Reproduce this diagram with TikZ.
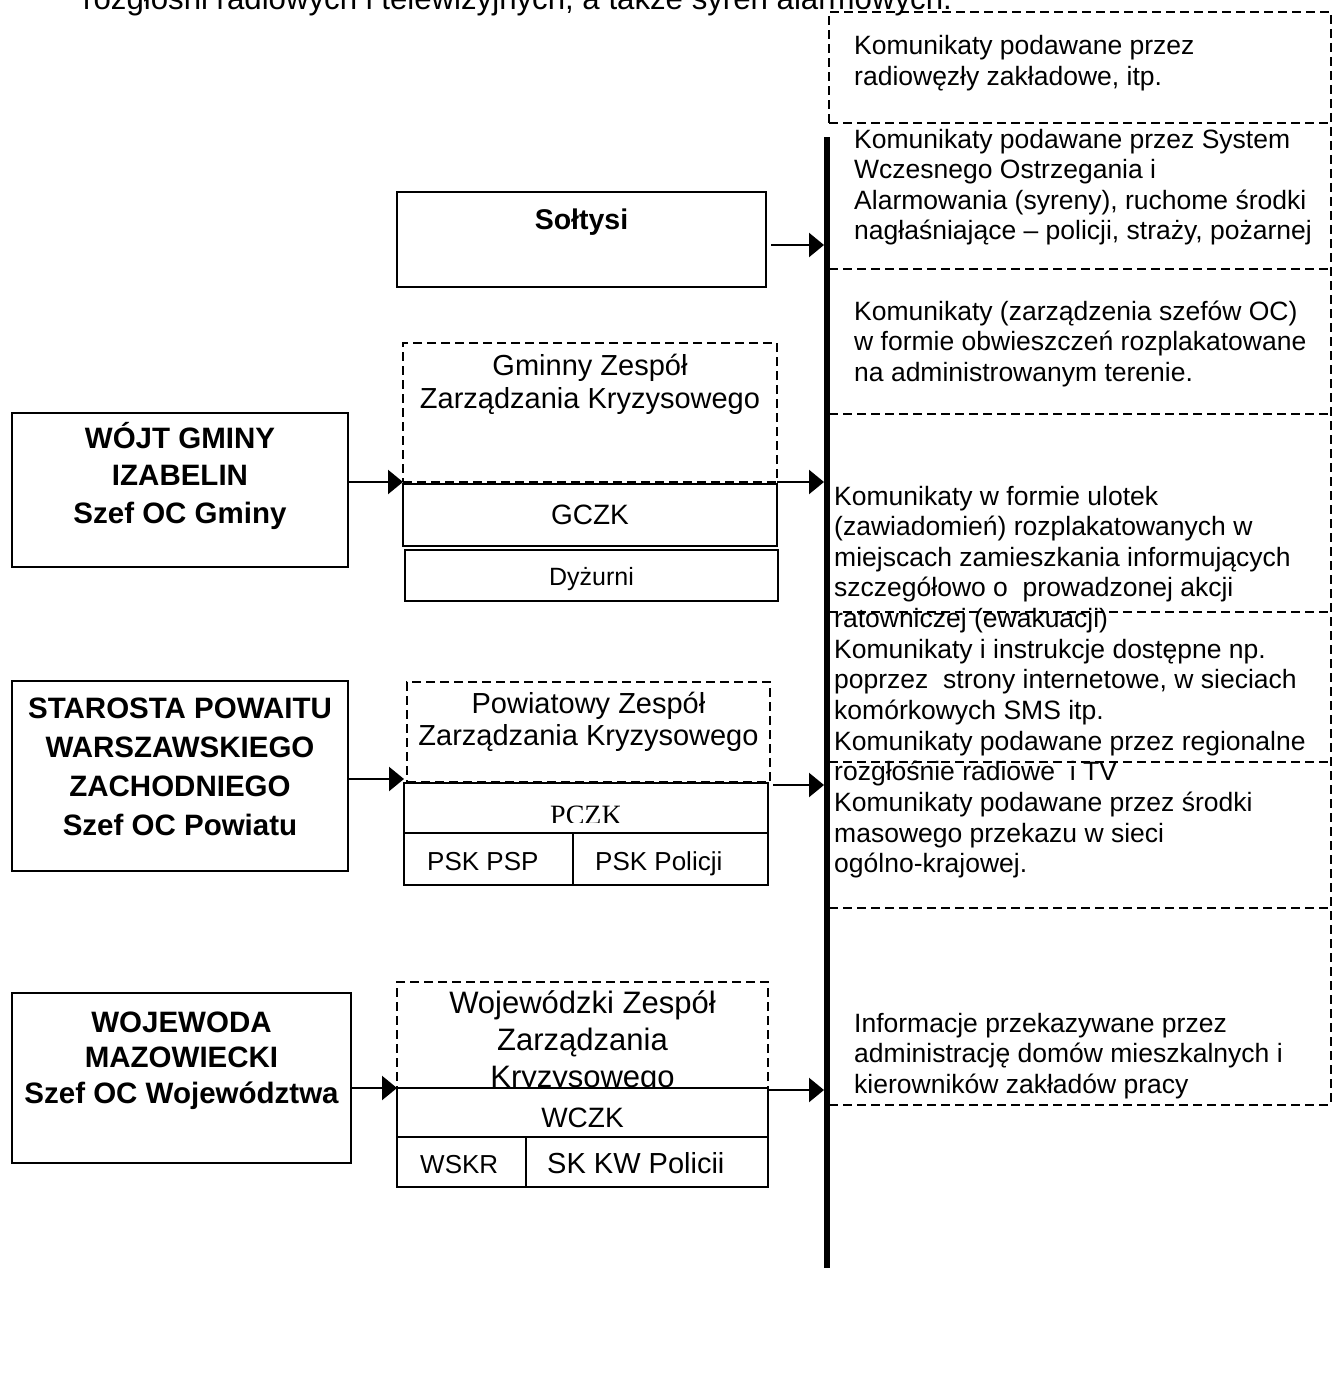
\documentclass[tikz,border=0pt]{standalone}
\usepackage{fontspec}
\setmainfont{Liberation Sans}
\newfontfamily\pczkfont{Liberation Serif}
\usetikzlibrary{arrows.meta}
\begin{document}
\begin{tikzpicture}[x=1pt,y=-1pt,
  box/.style={draw, line width=2.3pt, inner sep=0pt, outer sep=0pt, anchor=north west},
  dbox/.style={box, dash pattern=on 9pt off 5pt},
  arr/.style={line width=2.3pt, -{Triangle[length=15pt,width=24pt]}},
  dline/.style={line width=2.3pt, dash pattern=on 9pt off 5pt},
  rtxt/.style={inner sep=0pt, anchor=base west, align=left, font=\fontsize{26.5}{30.6}\selectfont},
  ltxt/.style={inner sep=0pt, anchor=base, align=center},
  btxt/.style={ltxt, font=\bfseries\fontsize{29.5}{37.5}\selectfont},
]
\useasboundingbox (0,0) rectangle (1343,1375);

% top cut-off line (base anchor = baseline of last line)
\node[inner sep=0pt, anchor=base west, font=\fontsize{31.2}{36}\selectfont] (toptext) at (83,10) {rozgłośni radiowych i telewizyjnych, a także syren alarmowych.};

% ---------- right column ----------
\node[fill=black, inner sep=0pt, outer sep=0pt, minimum width=6pt, minimum height=1131pt, anchor=north] (bus) at (827,137) {};

\node[rtxt] (r1) at (854,85.6) {Komunikaty podawane przez\\radiowęzły zakładowe, itp.};
\node[rtxt] (r2) at (854,239.8) {Komunikaty podawane przez System\\Wczesnego Ostrzegania i\\Alarmowania (syreny), ruchome środki\\nagłaśniające – policji, straży, pożarnej};
\node[rtxt] (r3) at (854,381.2) {Komunikaty (zarządzenia szefów OC)\\w formie obwieszczeń rozplakatowane\\na administrowanym terenie.};
\node[rtxt] (r4) at (834,627.4) {Komunikaty w formie ulotek\\(zawiadomień) rozplakatowanych w\\miejscach zamieszkania informujących\\szczegółowo o\ \ prowadzonej akcji\\ratowniczej (ewakuacji)};
\node[rtxt] (r5) at (834,719.5) {Komunikaty i instrukcje dostępne np.\\poprzez\ \ strony internetowe, w sieciach\\komórkowych SMS itp.};
\node[rtxt] (r6) at (834,780.9) {Komunikaty podawane przez regionalne\\rozgłośnie radiowe\ \ i TV};
\node[rtxt] (r7) at (834,872.8) {Komunikaty podawane przez środki\\masowego przekazu w sieci\\ogólno-krajowej.};
\node[rtxt] (r8) at (854,1093.2) {Informacje przekazywane przez\\administrację domów mieszkalnych i\\kierowników zakładów pracy};

% dashed frame of the right column
\draw[dline] (829,123) -- (829,12) -- (1331,12) -- (1331,1105);
\foreach \yy in {123,269,414,612,762,908,1105}
  \draw[dline] (829,\yy) -- (1331,\yy);

% ---------- left column boxes ----------
\node[box, minimum width=369pt, minimum height=95pt] (soltysi) at (397,192) {};
\node[ltxt, font=\bfseries\fontsize{28.5}{34}\selectfont] (tsoltysi) at (581.5,229) {Sołtysi};

\node[box, minimum width=336pt, minimum height=154pt] (wojt) at (12,413) {};
\node[btxt] (twojt) at (180,523) {WÓJT GMINY\\IZABELIN\\Szef OC Gminy};

\node[dbox, minimum width=374pt, minimum height=139pt] (gminny) at (403,343) {};
\node[ltxt, font=\fontsize{29}{33}\selectfont] (tgminny) at (590,408) {Gminny Zespół\\Zarządzania Kryzysowego};

\node[box, minimum width=374pt, minimum height=62pt] (gczk) at (403,484) {};
\node[ltxt, font=\fontsize{28}{32}\selectfont] (tgczk) at (590,524) {GCZK};

\node[box, minimum width=373pt, minimum height=51pt] (dyzurni) at (405,550) {};
\node[ltxt, font=\fontsize{25}{30}\selectfont] (tdyzurni) at (591.5,585) {Dyżurni};

\node[box, minimum width=336pt, minimum height=190pt] (starosta) at (12,681) {};
\node[btxt, font=\bfseries\fontsize{29.5}{39}\selectfont] (tstarosta) at (180,835) {STAROSTA POWAITU\\WARSZAWSKIEGO\\ZACHODNIEGO\\Szef OC Powiatu};

\node[dbox, minimum width=363pt, minimum height=100pt] (powiat) at (407,682) {};
\node[ltxt, font=\fontsize{29}{32}\selectfont] (tpowiat) at (588.5,745) {Powiatowy Zespół\\Zarządzania Kryzysowego};

\node[box, minimum width=364pt, minimum height=50pt] (pczk) at (404,783) {};
\begin{scope}
  \clip (404,783) rectangle (768,822.5);
  \node[ltxt, font=\pczkfont\fontsize{28}{32}\selectfont] (tpczk) at (586,824) {PCZK};
\end{scope}

\node[box, minimum width=169pt, minimum height=52pt] (pskpsp) at (404,833) {};
\node[box, minimum width=195pt, minimum height=52pt] (pskpol) at (573,833) {};
\node[inner sep=0pt, anchor=base west, font=\fontsize{26}{30}\selectfont] (tpskpsp) at (427,870) {PSK PSP};
\node[inner sep=0pt, anchor=base west, font=\fontsize{26}{30}\selectfont] (tpskpol) at (595,870) {PSK Policji};

\node[box, minimum width=339pt, minimum height=170pt] (wojewoda) at (12,993) {};
\node[btxt, font=\bfseries\fontsize{29.5}{35.5}\selectfont] (twojewoda) at (181.5,1103) {WOJEWODA\\MAZOWIECKI\\Szef OC Województwa};

\node[dbox, minimum width=371pt, minimum height=106pt] (wojew) at (397,982) {};
\node[ltxt, font=\fontsize{31}{37}\selectfont] (twojew) at (582.5,1087) {Wojewódzki Zespół\\Zarządzania\\Kryzysowego};

\node[box, fill=white, minimum width=371pt, minimum height=49pt] (wczk) at (397,1088) {};
\node[ltxt, font=\fontsize{28}{32}\selectfont] (twczk) at (582.5,1127) {WCZK};

\node[box, minimum width=129pt, minimum height=50pt] (wskr) at (397,1137) {};
\node[box, minimum width=242pt, minimum height=50pt] (skkw) at (526,1137) {};
\node[inner sep=0pt, anchor=base west, font=\fontsize{26}{30}\selectfont] (twskr) at (420,1173) {WSKR};
\node[inner sep=0pt, anchor=base west, font=\fontsize{29}{33}\selectfont] (tskkw) at (547,1173) {SK KW Policii};

% ---------- connectors ----------
\coordinate (aS) at ([xshift=5pt,yshift=-5.5pt]soltysi.east);
\coordinate (aP) at ([yshift=4pt]pczk.north west);
\coordinate (aPr) at ([xshift=5pt,yshift=-2pt]pczk.north east);
\coordinate (aW) at ([yshift=-2pt]wczk.north east);
\draw[arr] (aS) -- (bus.west |- aS);
\draw[arr] (wojt.east |- gminny.south west) -- (gminny.south west);
\draw[arr] (gminny.south east) -- (bus.west |- gminny.south east);
\draw[arr] (starosta.east |- aP) -- (aP);
\draw[arr] (aPr) -- (bus.west |- aPr);
\draw[arr] (wojewoda.east |- wczk.north west) -- (wczk.north west);
\draw[arr] (aW) -- (bus.west |- aW);
\end{tikzpicture}
\end{document}
